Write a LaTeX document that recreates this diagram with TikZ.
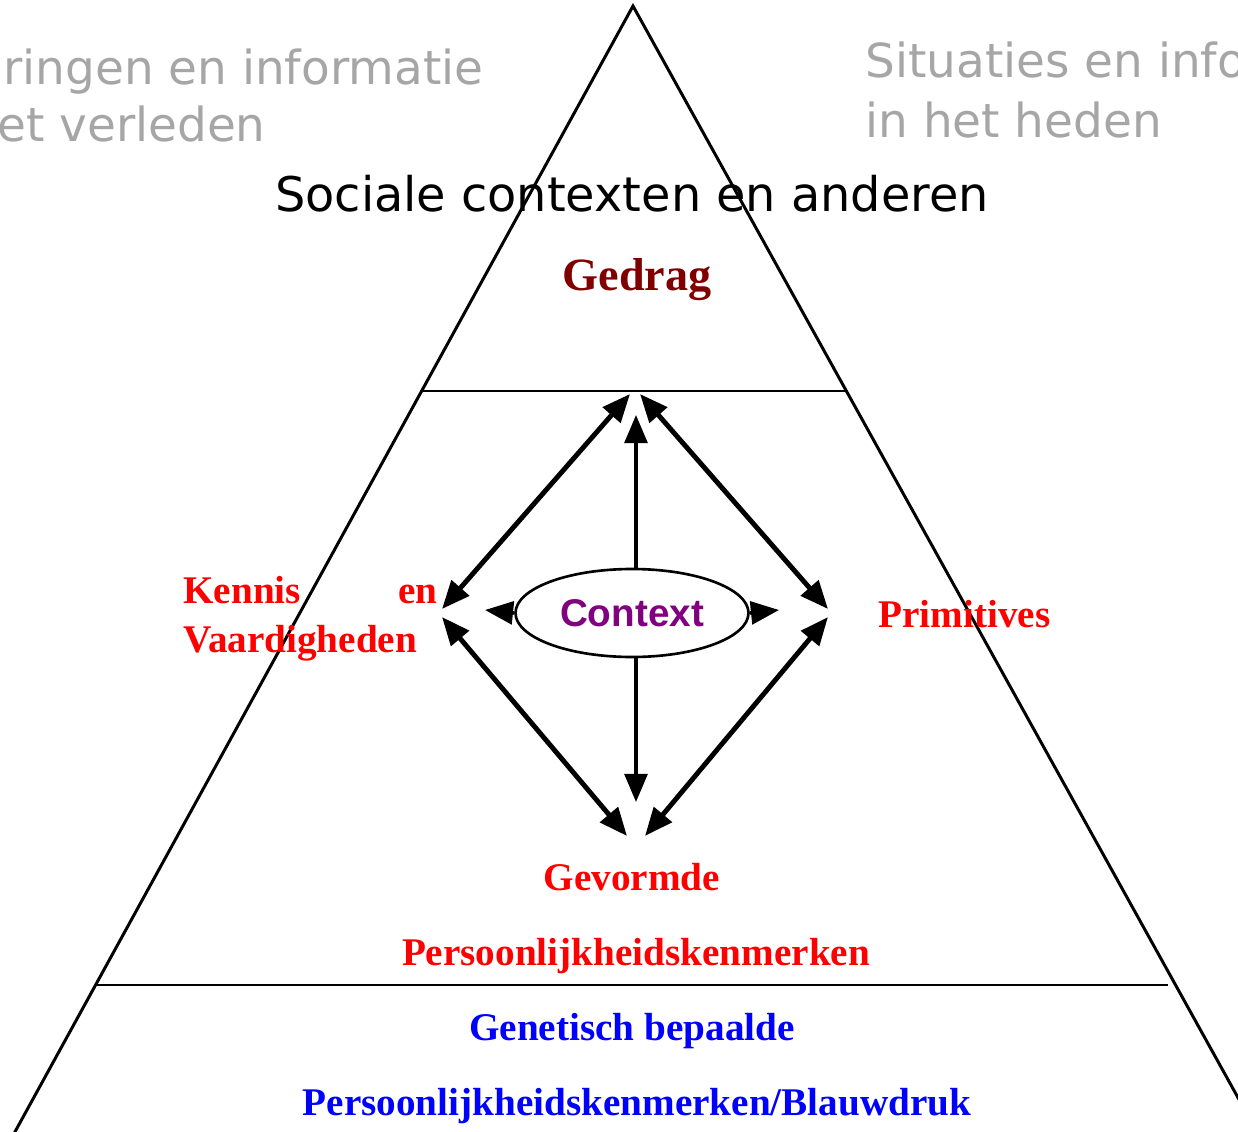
\documentclass[tikz,border=0pt]{standalone}
\usepackage{fontspec}
\setmainfont{Liberation Serif}
\newfontfamily\verdanafont{DejaVu Sans}
\newfontfamily\arialfont{Liberation Sans}
\usetikzlibrary{arrows.meta, shapes.geometric}
\definecolor{gedragred}{HTML}{800000}
\definecolor{contextpurple}{HTML}{800080}
\definecolor{pastgray}{HTML}{A6A6A6}
\tikzset{
  pyramid line/.style={line width=1.7pt, black},
  band line/.style={line width=1.4pt, black},
  link arrow/.style={line width=2.8pt, {Triangle[length=16pt,width=13pt]}-{Triangle[length=16pt,width=13pt]}},
  context arrow/.style={line width=2pt, -{Triangle[length=16pt,width=13pt]}},
  grey label/.style={inner sep=0pt, anchor=base west, text=pastgray, font=\verdanafont\fontsize{26.7pt}{30pt}\selectfont},
  red label/.style={inner sep=0pt, anchor=base, text=red, font=\bfseries\fontsize{22.3pt}{26pt}\selectfont},
  blue label/.style={inner sep=0pt, anchor=base, text=blue, font=\bfseries\fontsize{22.3pt}{26pt}\selectfont},
}
\begin{document}
\begin{tikzpicture}[x=0.02cm, y=-0.02cm]
  \useasboundingbox (0,0) rectangle (1238,1132);
  \clip (0,0) rectangle (1238,1132);
  % pyramid and its bands
  \coordinate (apex) at (633,6);
  \coordinate (baseL) at (5,1150);
  \coordinate (baseR) at (1267,1150);
  \draw[pyramid line, line join=miter] (baseL) -- (apex) -- (baseR);
  \draw[band line] (420,391) -- (845,391);
  \draw[band line] (95,985) -- (1168,985);
  % texts
  \node[grey label] (past1) at (3,85) {ringen en informatie};
  \node[grey label] (past2) at (-3,142) {et verleden};
  \node[grey label] (now1) at (865,78) {Situaties en info};
  \node[grey label] (now2) at (865,138) {in het heden};
  \node[inner sep=0pt, anchor=base, font=\verdanafont\fontsize{27.2pt}{32pt}\selectfont] (social) at (632,212) {Sociale contexten en anderen};
  \node[inner sep=0pt, anchor=base, text=gedragred, font=\bfseries\fontsize{26.3pt}{30pt}\selectfont] (gedrag) at (637,290) {Gedrag};
  \node[red label, anchor=base west] (kennis) at (183,603) {Kennis};
  \node[red label, anchor=base east] (en) at (438,603) {en};
  \node[red label, anchor=base west] (vaard) at (183,652) {Vaardigheden};
  \node[red label, anchor=base west] (prim) at (878,627) {Primitives};
  \node[red label] (gevormde) at (632,890) {Gevormde};
  \node[red label] (pers) at (636,965) {Persoonlijkheidskenmerken};
  \node[blue label] (genetisch) at (632,1040) {Genetisch bepaalde};
  \node[blue label] (blauw) at (637,1115) {Persoonlijkheidskenmerken/Blauwdruk};
  % context ellipse
  \node[draw, ellipse, line width=1.5pt, minimum width=233*0.02cm, minimum height=88*0.02cm, inner sep=0pt,
        text=contextpurple, font=\arialfont\bfseries\fontsize{22pt}{25pt}\selectfont] (context) at (632,613) {Context};
  % arrow ends
  \coordinate (topL) at (630,394);
  \coordinate (topR) at (640,394);
  \coordinate (topC) at (636,415);
  \coordinate (leftU) at (442,609);
  \coordinate (leftD) at (442,617);
  \coordinate (leftC) at (485,610);
  \coordinate (rightU) at (828,609);
  \coordinate (rightD) at (828,617);
  \coordinate (rightC) at (779,610);
  \coordinate (botL) at (627,836);
  \coordinate (botR) at (645,836);
  \coordinate (botC) at (636,802);
  \draw[link arrow] (leftU) -- (topL);
  \draw[link arrow] (topR) -- (rightU);
  \draw[link arrow] (leftD) -- (botL);
  \draw[link arrow] (rightD) -- (botR);
  \draw[context arrow] (context.north -| topC) -- (topC);
  \draw[context arrow] (context.south -| botC) -- (botC);
  \draw[context arrow] (context.west) -- (leftC);
  \draw[context arrow] (context.east) -- (rightC);
\end{tikzpicture}
\end{document}
